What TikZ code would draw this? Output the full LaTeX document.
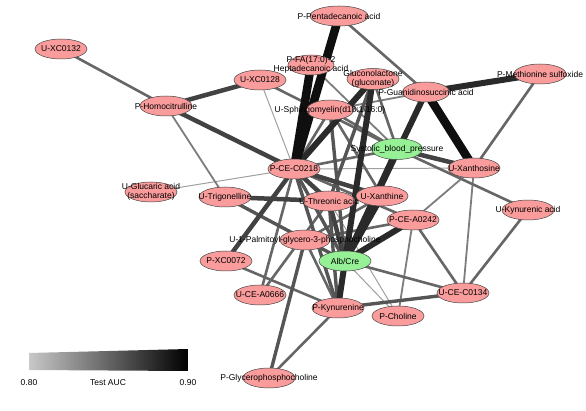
\documentclass[tikz,border=0pt]{standalone}
\usepackage{fontspec}
\setmainfont{Liberation Sans}
\usetikzlibrary{shapes.geometric,backgrounds}
\definecolor{pinkfill}{RGB}{250,156,156}
\definecolor{greenfill}{RGB}{150,240,150}
\definecolor{ndborder}{RGB}{70,70,70}
\definecolor{c1}{RGB}{160,160,160}
\definecolor{c2}{RGB}{125,125,125}
\definecolor{c3}{RGB}{102,102,102}
\definecolor{c4}{RGB}{85,85,85}
\definecolor{c5}{RGB}{66,66,66}
\definecolor{c6}{RGB}{42,42,42}
\definecolor{c7}{RGB}{15,15,15}
\newcommand\metnode[4]{%
  \node[#1] (#2) at (#3) {};
  \node[lab] (#2-t) at (#3) {#4};}
\begin{document}
\begin{tikzpicture}[x=1pt,y=-1pt,
  nd/.style={ellipse,draw=ndborder,line width=0.5pt,fill=pinkfill,minimum width=52pt,minimum height=20pt,inner sep=0pt},
  gn/.style={nd,fill=greenfill},
  lab/.style={font=\fontsize{8.5}{9.5}\selectfont,align=center,inner sep=0pt},
  e1/.style={draw=c1,line width=1pt},
  e2/.style={draw=c2,line width=1.8pt},
  e3/.style={draw=c3,line width=2.6pt},
  e4/.style={draw=c4,line width=3.4pt},
  e5/.style={draw=c5,line width=4.5pt},
  e6/.style={draw=c6,line width=6pt},
  e7/.style={draw=c7,line width=8.5pt}]
\useasboundingbox (0,0) rectangle (586,411);

\metnode{nd}{xc0132}{61,49}{U-XC0132}
\metnode{nd,minimum width=58pt}{penta}{339,16}{P-Pentadecanoic acid}
\metnode{nd,minimum width=46pt}{pfa}{311,65}{P-FA(17:0)-2\\Heptadecanoic acid}
\metnode{nd}{xc0128}{260,80}{U-XC0128}
\metnode{nd,minimum height=21pt}{gluco}{373,79}{Gluconolactone\\(gluconate)}
\metnode{nd,minimum width=47pt}{guan}{426,92}{P-Guanidinosuccinic acid}
\metnode{nd}{meth}{540,74}{P-Methionine sulfoxide}
\metnode{nd}{homo}{166,106}{P-Homocitrulline}
\metnode{nd,minimum width=47pt}{sphing}{330,110}{U-Sphingomyelin(d18:1/16:0)}
\metnode{gn,minimum width=51pt,minimum height=21pt}{sbp}{397,149}{Systolic\_blood\_pressure}
\metnode{nd}{c0218}{294,169}{P-CE-C0218}
\metnode{nd}{xanthosine}{474,168}{U-Xanthosine}
\metnode{nd}{glucaric}{151,192}{U-Glucaric acid\\(saccharate)}
\metnode{nd}{trig}{225,197}{U-Trigonelline}
\metnode{nd}{threonic}{329,201}{U-Threonic acid}
\metnode{nd}{xanthine}{382,196}{U-Xanthine}
\metnode{nd}{kyna}{528,210}{U-Kynurenic acid}
\metnode{nd}{a0242}{413,220}{P-CE-A0242}
\metnode{nd,minimum width=50pt}{palm}{305,240}{U-1-Palmitoyl-glycero-3-phosphocholine}
\metnode{nd}{xc0072}{226,261}{P-XC0072}
\metnode{gn}{alb}{345,261}{Alb/Cre}
\metnode{nd}{a0666}{260,295}{U-CE-A0666}
\metnode{nd}{c0134}{463,293}{U-CE-C0134}
\metnode{nd}{kyn}{338,308}{P-Kynurenine}
\metnode{nd}{choline}{398,316}{P-Choline}
\metnode{nd}{glycero}{269,378}{P-Glycerophosphocholine}

\begin{pgfonlayer}{background}
\fill[white] (0,0) rectangle (586,411);
% thin / light
\draw[e1] (glucaric.center) -- (c0218.center);
\draw[e1] (xc0128.center) -- (c0218.center);
\draw[e1] (c0218.center) -- (xanthosine.center);
\draw[e1] (alb.center) -- (choline.center);
\draw[e1] (threonic.center) -- (choline.center);
% e2
\draw[e2] (homo.center) -- (trig.center);
\draw[e2] (xanthosine.center) -- (a0242.center);
\draw[e2] (xanthosine.center) -- (c0134.center);
\draw[e2] (a0242.center) -- (choline.center);
\draw[e2] (guan.center) -- (sphing.center);
\draw[e2] (pfa.center) -- (sbp.center);
% e3
\draw[e3] (homo.center) -- (xc0132.center);
\draw[e3] (xc0128.center) -- (sbp.center);
\draw[e3] (penta.center) -- (guan.center);
\draw[e3] (meth.center) -- (xanthosine.center);
\draw[e3] (sbp.center) -- (kyna.center);
\draw[e3] (kyna.center) -- (c0134.center);
\draw[e3] (a0242.center) -- (c0134.center);
\draw[e3] (alb.center) -- (c0134.center);
\draw[e3] (c0218.center) -- (sbp.center);
\draw[e3] (c0218.center) -- (a0666.center);
\draw[e3] (glycero.center) -- (kyn.center);
\draw[e3] (xc0072.center) -- (kyn.center);
\draw[e3] (a0666.center) -- (threonic.center);
\draw[e3] (gluco.center) -- (sbp.center);
\draw[e3] (sphing.center) -- (c0218.center);
\draw[e3] (sphing.center) -- (xanthine.center);
\draw[e3] (sphing.center) -- (sbp.center);
\draw[e3] (a0242.center) -- (palm.center);
\draw[e3] (c0218.center) -- (a0242.center);
\draw[e3] (palm.center) -- (kyn.center);
\draw[e3] (palm.center) -- (xanthine.center);
% e4
\draw[e4] (kyn.center) -- (c0134.center);
\draw[e4] (trig.center) -- (alb.center);
\draw[e4] (glycero.center) -- (palm.center);
\draw[e4] (gluco.center) -- (threonic.center);
\draw[e4] (sphing.center) -- (alb.center);
\draw[e4] (c0218.center) -- (alb.center);
\draw[e4] (c0218.center) -- (kyn.center);
\draw[e4] (threonic.center) -- (kyn.center);
% e5
\draw[e5] (homo.center) -- (xc0128.center);
\draw[e5] (homo.center) -- (c0218.center);
\draw[e5] (sbp.center) -- (xanthosine.center);
\draw[e5] (c0218.center) -- (threonic.center);
\draw[e5] (c0218.center) -- (xanthine.center);
\draw[e5] (c0218.center) -- (xc0072.center);
\draw[e5] (trig.center) -- (threonic.center);
\draw[e5] (threonic.center) -- (alb.center);
\draw[e5] (xanthine.center) -- (threonic.center);
% e6
\draw[e6] (guan.center) -- (meth.center);
\draw[e6] (kyn.center) -- (alb.center);
\draw[e6] (gluco.center) -- (c0218.center);
\draw[e6] (gluco.center) -- (alb.center);
\draw[e6] (guan.center) -- (alb.center);
\draw[e6] (sbp.center) -- (alb.center);
\draw[e6] (a0242.center) -- (alb.center);
\draw[e6] (xanthine.center) -- (alb.center);
% e7
\draw[e7] (penta.center) -- (c0218.center);
\draw[e7] (pfa.center) -- (c0218.center);
\draw[e7] (guan.center) -- (xanthosine.center);
\end{pgfonlayer}

% colour bar
\shade[left color={rgb,255:red,200;green,200;blue,200}, right color=black]
  (29,353) -- (188,349) -- (188,371) -- (29,370) -- cycle;
\node[lab] (bar-lo) at (29,383) {0.80};
\node[lab] (bar-title) at (108,383) {Test AUC};
\node[lab] (bar-hi) at (188,383) {0.90};
\end{tikzpicture}
\end{document}
